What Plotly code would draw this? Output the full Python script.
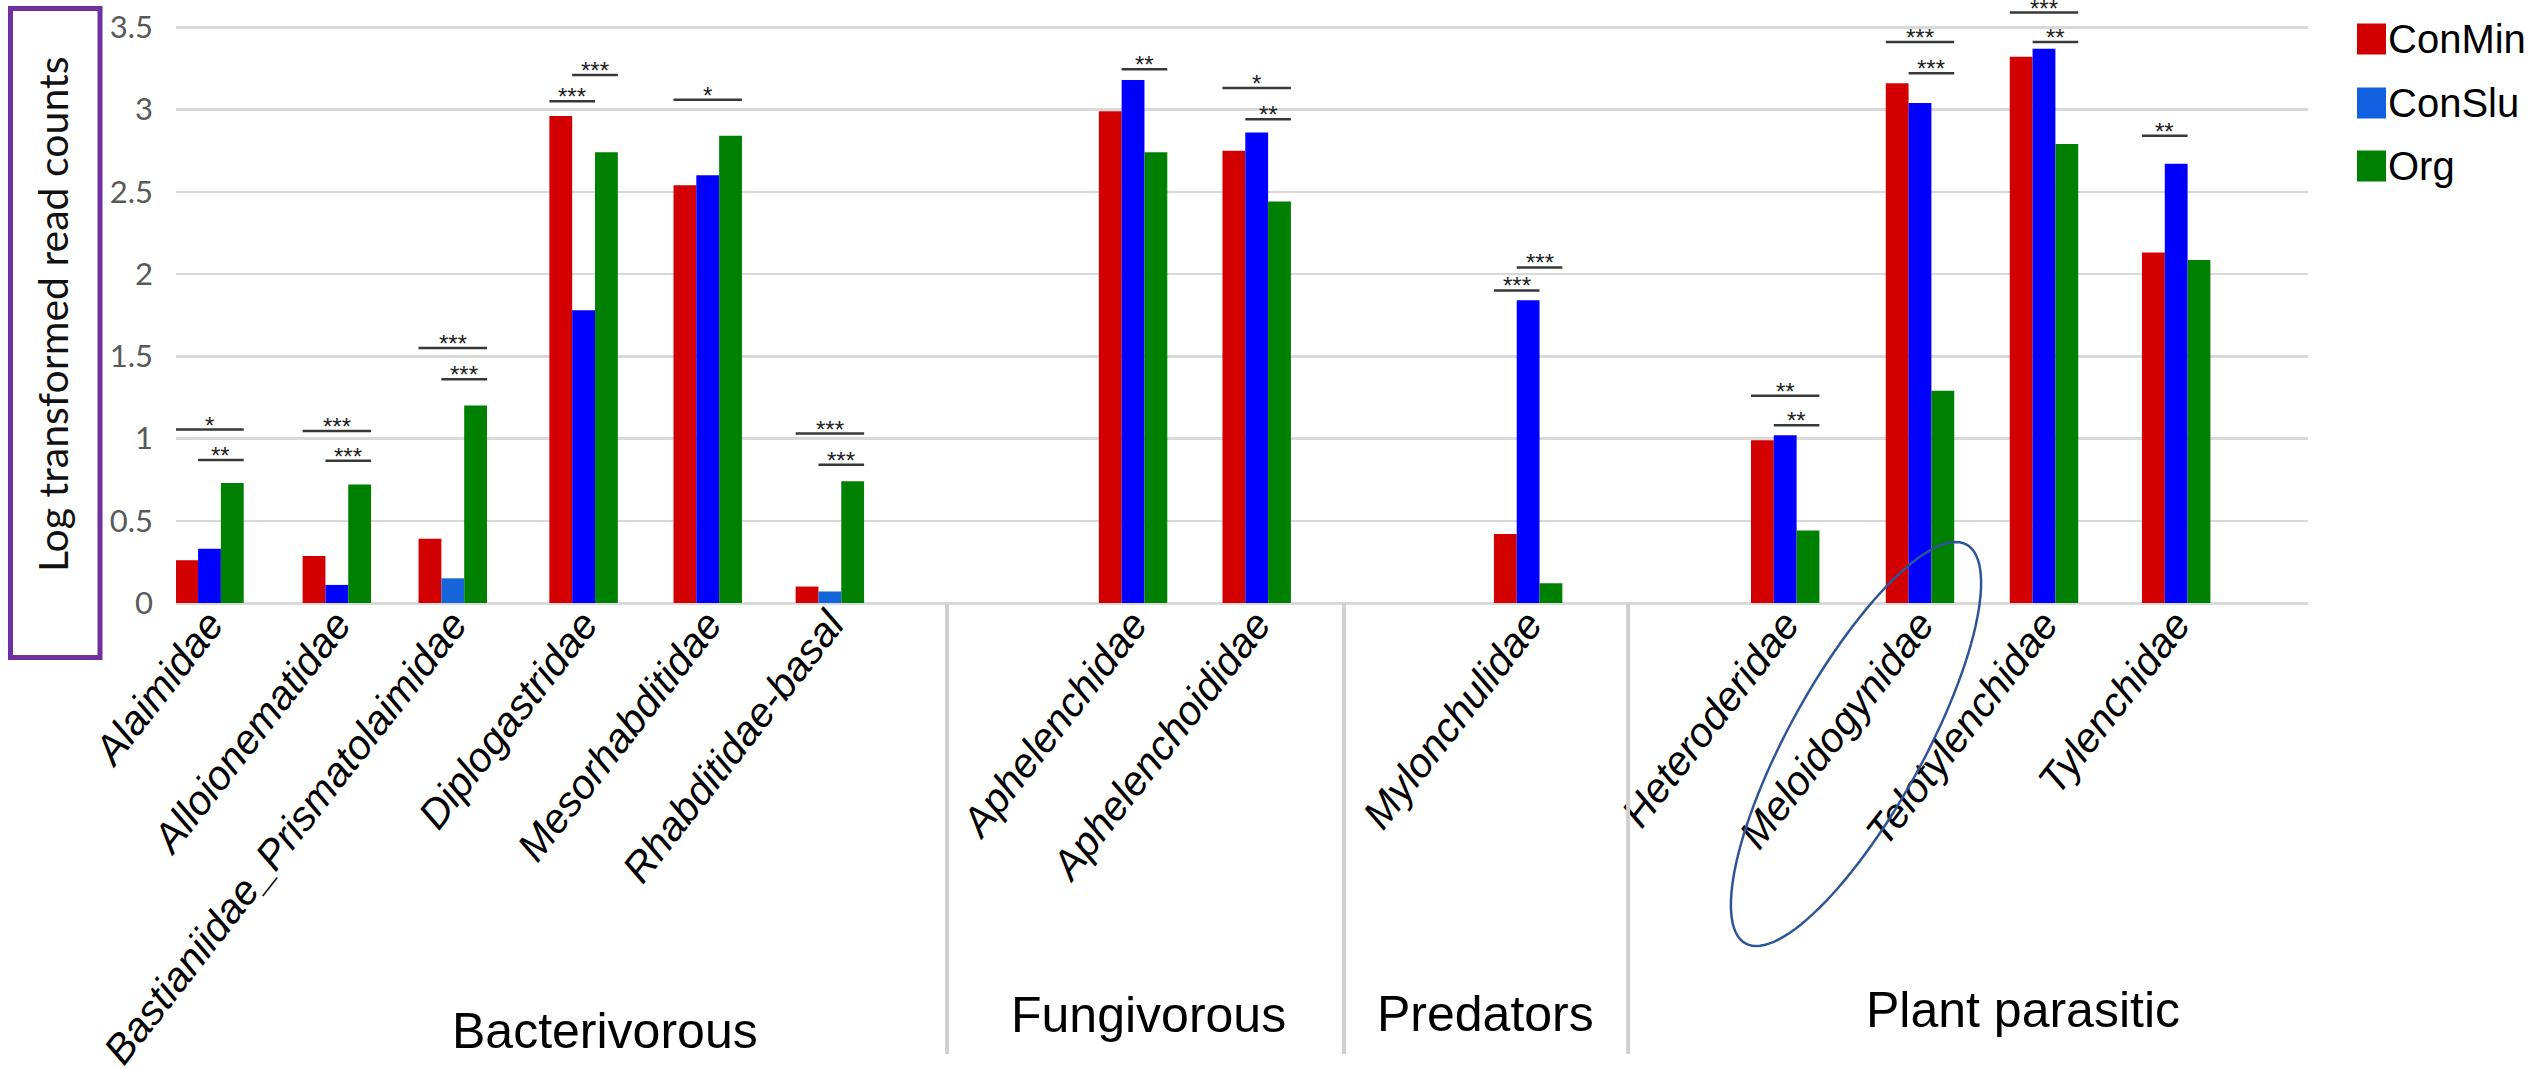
import math
import plotly.graph_objects as go

# ---------------- data ----------------
families = ["Alaimidae", "Alloionematidae", "Bastianiidae_Prismatolaimidae",
            "Diplogastridae", "Mesorhabditidae", "Rhabditidae-basal",
            "Aphelenchidae", "Aphelenchoididae", "Mylonchulidae",
            "Heteroderidae", "Meloidogynidae", "Telotylenchidae", "Tylenchidae"]
conmin = [0.26, 0.285, 0.39, 2.96, 2.54, 0.10, 2.99, 2.75, 0.42, 0.99, 3.16, 3.32, 2.13]
conslu = [0.33, 0.11, 0.15, 1.78, 2.60, 0.07, 3.18, 2.86, 1.84, 1.02, 3.04, 3.37, 2.67]
org    = [0.73, 0.72, 1.20, 2.74, 2.84, 0.74, 2.74, 2.44, 0.12, 0.44, 1.29, 2.79, 2.085]
series_names = ["ConMin", "ConSlu", "Org"]
groups = ["Bacterivorous", "Fungivorous", "Predators", "Plant parasitic"]
y_ticks = [0, 0.5, 1, 1.5, 2, 2.5, 3, 3.5]
y_tick_labels = ["0", "0.5", "1", "1.5", "2", "2.5", "3", "3.5"]
y_title = "Log transformed read counts"
# significance brackets: (family index, span kind, height, stars)
sig_family = [0, 0, 1, 1, 2, 2, 3, 3, 4, 5, 5, 6, 7, 7, 8, 8, 9, 9, 10, 10, 11, 11, 12]
sig_span   = ["full", "bg", "full", "bg", "full", "bg", "rb", "bg", "full", "full", "bg",
              "bg", "full", "bg", "rb", "bg", "full", "bg", "full", "bg", "full", "bg", "rb"]
sig_height = [1.054, 0.87, 1.046, 0.865, 1.55, 1.36, 3.05, 3.21, 3.06, 1.03, 0.84,
              3.245, 3.13, 2.94, 1.90, 2.04, 1.26, 1.08, 3.41, 3.22, 3.59, 3.41, 2.84]
sig_stars  = ["*", "**", "***", "***", "***", "***", "***", "***", "*", "***", "***",
              "**", "*", "**", "***", "***", "**", "**", "***", "***", "***", "**", "**"]

# ---------------- layout / style ----------------
W, H = 2542, 1070


def xp(px):
    return px / W


def yp(py):
    return 1 - py / H


x_pos = [1.0, 2.027, 2.962, 4.017, 5.018, 6.003, 8.448, 9.445, 11.634,
         13.707, 14.794, 15.794, 16.86]          # category slot positions
x_range = [0.730, 17.923]
divider_pos = [6.948, 10.149, 12.44]
bw = 0.184
colors = ["#D20000", "#0000FF", "#008000"]
conslu_colors = ["#0000FF", "#0000FF", "#1565D8", "#0000FF", "#0000FF", "#1565D8",
                 "#0000FF", "#0000FF", "#0000FF", "#0000FF", "#0000FF", "#0000FF", "#0000FF"]
plot_left, plot_right, base_px, unit_px = 176, 2308, 603, 164.5

fig = go.Figure()
for i, (name, vals) in enumerate(zip(series_names, [conmin, conslu, org])):
    fig.add_trace(go.Bar(
        x=x_pos, y=vals, name=name, width=bw, offset=(i - 1.5) * bw,
        marker=dict(color=conslu_colors if i == 1 else colors[i], line=dict(width=0)),
    ))

shapes = []
annotations = []
span_map = {"full": (0, 3), "bg": (1, 3), "rb": (0, 2)}
for fi, sp, h, st in zip(sig_family, sig_span, sig_height, sig_stars):
    a, b = span_map[sp]
    x0 = x_pos[fi] - 1.5 * bw + a * bw
    x1 = x_pos[fi] - 1.5 * bw + b * bw
    shapes.append(dict(type="line", xref="x", yref="y", x0=x0, x1=x1, y0=h, y1=h,
                       line=dict(color="#383838", width=2.5)))
    annotations.append(dict(xref="x", yref="y", x=(x0 + x1) / 2, y=h, text=st,
                            showarrow=False, yanchor="bottom",
                            yshift=-12 if h > 3.55 else -11,
                            font=dict(family="Liberation Sans, Arial", size=24, color="#222222")))

# group dividers below the axis
for d in divider_pos:
    shapes.append(dict(type="line", xref="x", yref="paper", x0=d, x1=d,
                       y0=yp(base_px), y1=yp(1054),
                       line=dict(color="#D0D0D0", width=4)))

# group labels
group_x = [605, 1148, 1485, 2023]
group_y = [1031, 1015, 1014, 1010]
for g, gx, gy in zip(groups, group_x, group_y):
    annotations.append(dict(xref="paper", yref="paper", x=xp(gx), y=yp(gy), text=g,
                            showarrow=False, xanchor="center", yanchor="middle",
                            font=dict(family="Liberation Sans, Arial", size=50, color="black")))

# y-axis title in purple box
annotations.append(dict(xref="paper", yref="paper", x=xp(52), y=yp(315), text=y_title,
                        textangle=-90, showarrow=False, xanchor="center", yanchor="middle",
                        font=dict(family="Lato, Open Sans", size=41, color="#111111")))
shapes.append(dict(type="rect", xref="paper", yref="paper", x0=xp(10.5), x1=xp(100),
                   y0=yp(8.5), y1=yp(657.5), line=dict(color="#7030A0", width=5)))

# manual legend
leg_y = [39, 103, 166]
leg_col = ["#D20000", "#1060E0", "#008000"]
for name, ly, lc in zip(series_names, leg_y, leg_col):
    shapes.append(dict(type="rect", xref="paper", yref="paper", x0=xp(2357), x1=xp(2386),
                       y0=yp(ly - 15.5), y1=yp(ly + 15.5),
                       fillcolor=lc, line=dict(width=0)))
    annotations.append(dict(xref="paper", yref="paper", x=xp(2386), y=yp(ly), text=name,
                            showarrow=False, xanchor="left", yanchor="middle",
                            font=dict(family="Liberation Sans, Arial", size=40, color="black")))

# ellipse around Meloidogynidae label
cx, cy, ea, eb, th = 1856, 744, 228, 67, math.radians(29)
ux, uy = math.sin(th), -math.cos(th)
vx, vy = math.cos(th), math.sin(th)
pts = []
for k in range(121):
    t = 2 * math.pi * k / 120
    px = cx + ea * math.cos(t) * ux + eb * math.sin(t) * vx
    py = cy + ea * math.cos(t) * uy + eb * math.sin(t) * vy
    pts.append(f"{xp(px):.5f},{yp(py):.5f}")
shapes.append(dict(type="path", xref="paper", yref="paper",
                   path="M" + " L".join(pts) + " Z", line=dict(color="#2F5597", width=2.5)))

fig.update_layout(
    template="none",
    width=W, height=H, margin=dict(l=0, r=0, t=0, b=0, pad=0, autoexpand=False),
    plot_bgcolor="white", paper_bgcolor="white",
    barmode="overlay", showlegend=False, hovermode=False,
    shapes=shapes, annotations=annotations,
    xaxis=dict(domain=[xp(plot_left), xp(plot_right)], range=x_range, automargin=False,
               tickvals=x_pos, ticktext=families, tickangle=-52, ticklabelstandoff=-12,
               ticklabeloverflow="allow",
               tickfont=dict(family="Liberation Sans, Arial", size=41, style="italic", color="black"),
               showgrid=False, zeroline=False, showline=False, ticks=""),
    yaxis=dict(domain=[yp(base_px), 1], range=[0, base_px / unit_px], automargin=False,
               tickvals=y_ticks, ticktext=y_tick_labels, ticklabeloverflow="allow",
               tickfont=dict(family="Lato, Open Sans", size=31, color="#595959"),
               ticklabelstandoff=22, ticks="",
               showgrid=True, gridcolor="#D9D9D9", gridwidth=2.5,
               zeroline=True, zerolinecolor="#D9D9D9", zerolinewidth=3, showline=False),
)

fig.write_html("out.html", config={"displayModeBar": False, "staticPlot": True},
               post_script="document.body.style.margin='0';document.body.style.overflow='hidden';")
